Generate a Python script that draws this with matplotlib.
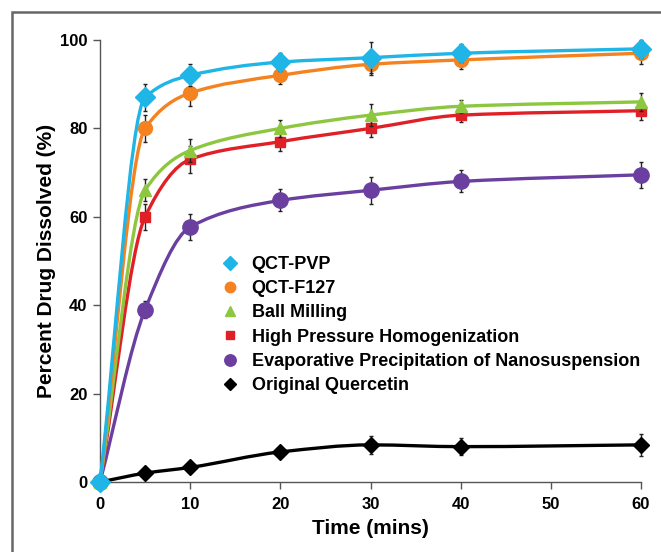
import numpy as np
import matplotlib.pyplot as plt
from matplotlib.path import Path
from matplotlib.patches import PathPatch, Rectangle
from matplotlib.lines import Line2D

# ---------------------------
# Datos
# ---------------------------
tiempo = [0, 5, 10, 20, 30, 40, 60]

qct_pvp = [0, 87, 92, 95, 96, 97, 98]
qct_f127 = [0, 80, 88, 92, 94.5, 95.5, 97]
ball_milling = [0, 66, 75, 80, 83, 85, 86]
hph = [0, 60, 73, 77, 80, 83, 84]
epn = [0, 39, 57.7, 63.7, 66, 68, 69.5]
original = [0, 2, 3.3, 6.8, 8.4, 8, 8.4]

err_pvp = [0, 3, 2.5, 2, 3.5, 2, 2]
err_f127 = [0, 3, 3, 2, 2.5, 2, 2.5]
err_bm = [0, 2.5, 2.5, 2, 2.5, 1.5, 2]
err_hph = [0, 3, 3, 2, 2, 1.5, 2]
err_epn = [0, 2, 3, 2.5, 3, 2.5, 3]
err_orig = [0, 0.8, 0.8, 1, 2, 2, 2.5]

nombres = ["QCT-PVP", "QCT-F127", "Ball Milling", "High Pressure Homogenization",
           "Evaporative Precipitation of Nanosuspension", "Original Quercetin"]

plt.rcParams['font.family'] = ['Liberation Sans', 'DejaVu Sans']
plt.rcParams['font.weight'] = 'bold'

# (valores, errores, color, marcador, tamaño)
series = [
    (qct_pvp, err_pvp, '#1fb5e6', 'D', 10),
    (qct_f127, err_f127, '#f58220', 'o', 10),
    (ball_milling, err_bm, '#8dc63f', '^', 9),
    (hph, err_hph, '#e02027', 's', 7.5),
    (epn, err_epn, '#6a3fa0', 'o', 11),
    (original, err_orig, '#000000', 'D', 8),
]


def curva_suave(x, y):
    # Curva suavizada: Bezier cubico con pendientes monotonas (sin sobreoscilacion)
    x = np.asarray(x, float)
    y = np.asarray(y, float)
    h = np.diff(x)
    delta = np.diff(y) / h
    n = len(x)
    d = np.zeros(n)
    d[0] = delta[0]
    d[-1] = delta[-1]
    for i in range(1, n - 1):
        if delta[i - 1] * delta[i] > 0:
            w1 = 2 * h[i] + h[i - 1]
            w2 = h[i] + 2 * h[i - 1]
            d[i] = (w1 + w2) / (w1 / delta[i - 1] + w2 / delta[i])
    verts = [(x[0], y[0])]
    codes = [Path.MOVETO]
    for i in range(n - 1):
        verts += [(x[i] + h[i] / 3, y[i] + d[i] * h[i] / 3),
                  (x[i + 1] - h[i] / 3, y[i + 1] - d[i + 1] * h[i] / 3),
                  (x[i + 1], y[i + 1])]
        codes += [Path.CURVE4] * 3
    return Path(verts, codes)


fig = plt.figure(figsize=(6.61, 5.52), dpi=100)
ax = fig.add_axes([100 / 661, 1 - 482 / 552, 541 / 661, 442 / 552])

for i, (vals, errs, col, mk, ms) in enumerate(series):
    z = 10 - i
    ax.add_patch(PathPatch(curva_suave(tiempo, vals), fill=False, edgecolor=col,
                           lw=2.4, transform=ax.transData, zorder=z, clip_on=False))
    ax.errorbar(tiempo, vals, yerr=errs, fmt='none', ecolor='#222222', elinewidth=1,
                capsize=1.5, capthick=1, zorder=z - 0.5, clip_on=False)
    ax.plot(tiempo, vals, linestyle='none', marker=mk, ms=ms, color=col,
            markeredgecolor=col, zorder=z + 0.2, clip_on=False)

ax.set_xlim(0, 60)
ax.set_ylim(0, 100)
ax.set_xticks(np.arange(0, 61, 10))
ax.set_yticks(np.arange(0, 101, 20))
ax.tick_params(direction='out', length=5, width=1, colors='#555555',
               labelcolor='black', labelsize=12)
ax.tick_params(axis='x', pad=6)
ax.tick_params(axis='y', pad=4)
for lab in ax.get_xticklabels() + ax.get_yticklabels():
    lab.set_fontweight('bold')
for s in ['top', 'right']:
    ax.spines[s].set_visible(False)
for s in ['left', 'bottom']:
    ax.spines[s].set_color('#555555')
    ax.spines[s].set_linewidth(1)

ax.set_xlabel("Time (mins)", fontsize=15, fontweight='bold', labelpad=5)
ax.set_ylabel("Percent Drug Dissolved (%)", fontsize=15, fontweight='bold', labelpad=3)

# Leyenda solo con marcadores
handles = [Line2D([], [], linestyle='none', marker=mk, color=col, ms=ms * 0.75)
           for (_, _, col, mk, ms) in series]
fig.legend(handles, nombres, loc='upper left',
           bbox_to_anchor=(212 / 661, 1 - 247 / 552), frameon=False,
           prop={'weight': 'bold', 'size': 13}, handlelength=1.0,
           handletextpad=0.7, labelspacing=0.4, borderpad=0)

# Marco exterior gris
fig.patches.append(Rectangle((12 / 661, -0.1), 1.2, 1 - 12 / 552 + 0.1,
                             transform=fig.transFigure, fill=False,
                             edgecolor='#666666', lw=1.8))

fig.savefig("out.png", dpi=100)
